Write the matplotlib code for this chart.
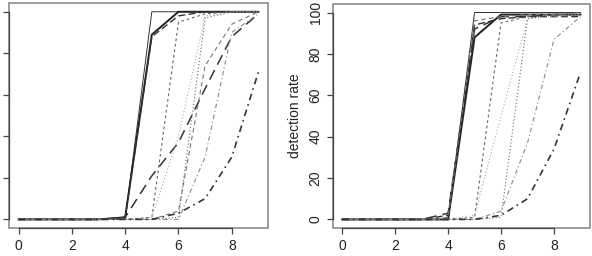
import numpy as np
import matplotlib.pyplot as plt
from matplotlib.patches import Rectangle

plt.rcParams['font.family'] = ['Liberation Sans', 'DejaVu Sans']

# x values (shared by both panels)
x = [0, 1, 2, 3, 4, 5, 6, 7, 8, 9]

# left panel series (detection rate, %)
left_series = [
    [0, 0, 0, 0, 0, 100, 100, 100, 100, 100],
    [0, 0, 0, 0, 1, 89, 100, 100, 100, 100],
    [0, 0, 0, 0, 1, 88, 98, 100, 100, 100],
    [0, 0, 0, 0, 0, 1, 95, 99, 100, 100],
    [0, 0, 0, 0, 1, 21, 37, 63, 88, 99],
    [0, 0, 0, 0, 0, 0, 4, 74, 94, 100],
    [0, 0, 0, 0, 0, 1, 40, 98, 100, 100],
    [0, 0, 0, 0, 0, 0, 1, 97, 100, 100],
    [0, 0, 0, 0, 0, 0, 0, 30, 90, 99],
    [0, 0, 0, 0, 0, 0, 3, 10, 30, 71],
]

# right panel series
right_series = [
    [0, 0, 0, 0, 0, 100, 100, 100, 100, 100],
    [0, 0, 0, 0, 0, 88, 99, 99, 99, 99],
    [0, 0, 0, 0, 2, 94, 97, 98, 98, 98],
    [0, 0, 0, 0, 0, 1, 95, 98, 99, 99],
    [0, 0, 0, 0, 3, 92, 98, 98, 99, 99],
    [0, 0, 0, 0, 1, 96, 98, 99, 99, 100],
    [0, 0, 0, 0, 0, 2, 50, 97, 98, 99],
    [0, 0, 0, 0, 0, 0, 1, 97, 99, 99],
    [0, 0, 0, 0, 0, 0, 4, 37, 87, 98],
    [0, 0, 0, 0, 0, 0, 2, 10, 34, 71],
]

# one style per series: (color, linewidth, dashes)
styles = [
    ('#333333', 0.7, None),
    ('#222222', 1.4, None),
    ('#333333', 1.0, (5, 2.5)),
    ('#666666', 0.8, (2.5, 2.5)),
    ('#333333', 1.1, (7, 4)),
    ('#777777', 0.8, (4, 3)),
    ('#aaaaaa', 0.8, (1, 2)),
    ('#666666', 0.8, (1, 2)),
    ('#888888', 0.8, (4, 2.5, 1, 2.5)),
    ('#333333', 1.2, (4, 2.5, 1, 2.5)),
]

fig = plt.figure(figsize=(5.92, 2.56), dpi=100)
ax1 = fig.add_axes([0.0152, 0.1105, 0.4375, 0.876])
ax2 = fig.add_axes([0.562, 0.1105, 0.4346, 0.873])

for ax, series in [(ax1, left_series), (ax2, right_series)]:
    for vals, (c, lw, d) in zip(series, styles):
        line, = ax.plot(x, vals, color=c, lw=lw)
        if d is not None:
            line.set_dashes(d)
    ax.set_xlim(-0.36, 9.36)
    ax.set_ylim(-4, 104)
    ax.set_xticks([0, 2, 4, 6, 8])
    ax.set_yticks([0, 20, 40, 60, 80, 100])
    ax.spines['top'].set_visible(False)
    ax.spines['right'].set_visible(False)
    for s in ['left', 'bottom']:
        ax.spines[s].set_color('#444444')
        ax.spines[s].set_linewidth(0.9)
    ax.spines['left'].set_bounds(0, 100)
    ax.spines['bottom'].set_bounds(0, 8)
    ax.add_patch(Rectangle((0, 0), 1, 1, transform=ax.transAxes, fill=False,
                           edgecolor='#8c8c8c', lw=1.2, clip_on=False, zorder=0))
    ax.tick_params(direction='out', length=4.3, width=0.9, color='#444444',
                   labelsize=10, labelcolor='#222222')
    ax.tick_params(axis='x', pad=4)
    ax.tick_params(axis='y', pad=3)

ax1.set_yticklabels([])
for lab in ax2.get_yticklabels():
    lab.set_rotation(90)
    lab.set_va('center')
ax2.set_ylabel('detection rate', fontsize=10, color='#222222', labelpad=5)

fig.savefig('out.png', dpi=100)
